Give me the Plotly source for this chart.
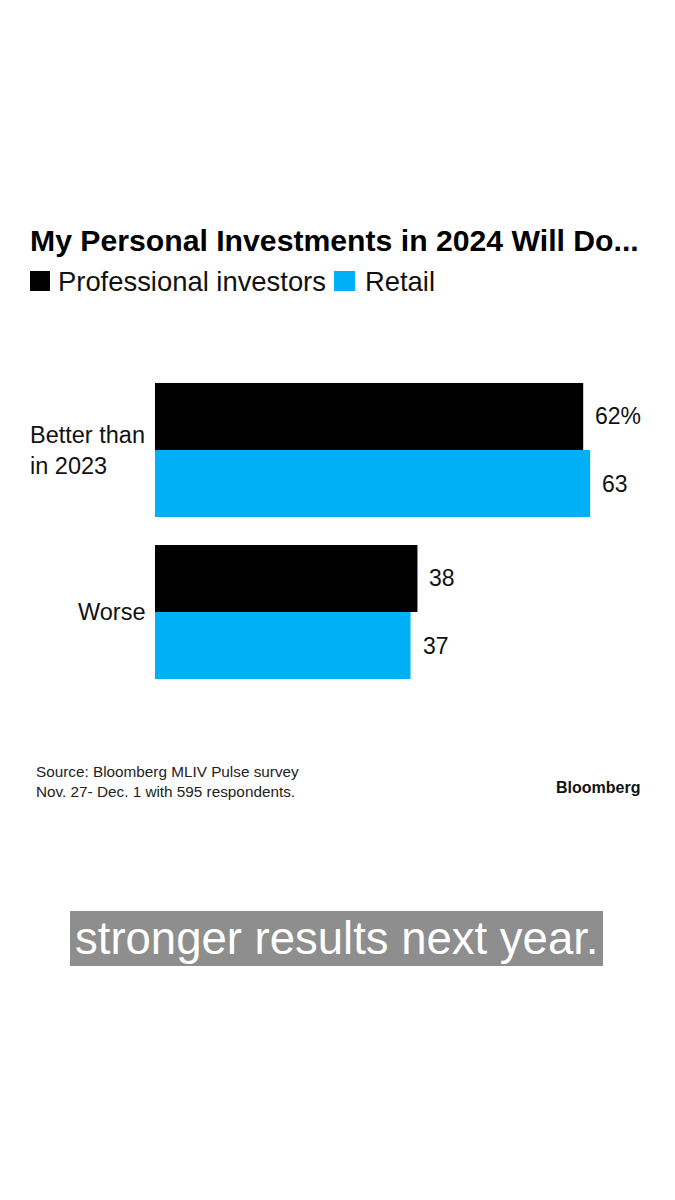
import plotly.graph_objects as go

categories = ["Better than<br>in 2023", "Worse"]
series_names = ["Professional investors", "Retail"]
professional = [62, 38]
retail = [63, 37]
prof_labels = ["62%", "38"]
retail_labels = ["63", "37"]
colors = ["#000000", "#00B0F6"]

W, H = 675, 1200
L, R = 155, 2
T, B = 369, 507
plot_w = W - L - R
plot_h = H - T - B

def px(x):
    return (x - L) / plot_w

def py(y):
    return (H - B - y) / plot_h

FONT = "Liberation Sans, Arial, sans-serif"

fig = go.Figure()
cat_idx = list(range(len(categories)))
for vals, name, col in [(professional, series_names[0], colors[0]), (retail, series_names[1], colors[1])]:
    fig.add_trace(go.Bar(
        y=cat_idx, x=vals, name=name, orientation="h",
        marker=dict(color=col, line=dict(width=0)),
        showlegend=False, hoverinfo="skip",
    ))

annotations = []
# value labels
for i, (v, t) in enumerate(zip(professional, prof_labels)):
    annotations.append(dict(x=v, y=i - 0.207, xref="x", yref="y", text=t, showarrow=False,
                            xanchor="left", xshift=10, font=dict(size=23, color="#111", family=FONT)))
for i, (v, t) in enumerate(zip(retail, retail_labels)):
    annotations.append(dict(x=v, y=i + 0.207, xref="x", yref="y", text=t, showarrow=False,
                            xanchor="left", xshift=10, font=dict(size=23, color="#111", family=FONT)))
# category labels
for i, c in enumerate(categories):
    annotations.append(dict(x=0, y=i, xref="paper", yref="y", text=c, showarrow=False,
                            xanchor="right", xshift=-8, align="left",
                            font=dict(size=23.5, color="#111", family=FONT)))

# title
annotations.append(dict(x=px(28), y=py(240), xref="paper", yref="paper", xanchor="left", yanchor="middle",
                        text="<b>My Personal Investments in 2024 Will Do...</b>", showarrow=False,
                        font=dict(size=30.2, color="#000", family=FONT)))
# legend texts
annotations.append(dict(x=px(56), y=py(281), xref="paper", yref="paper", xanchor="left", yanchor="middle",
                        text=series_names[0], showarrow=False, font=dict(size=27.4, color="#111", family=FONT)))
annotations.append(dict(x=px(363), y=py(281), xref="paper", yref="paper", xanchor="left", yanchor="middle",
                        text=series_names[1], showarrow=False, font=dict(size=27.4, color="#111", family=FONT)))
# source
annotations.append(dict(x=px(34), y=py(781), xref="paper", yref="paper", xanchor="left", yanchor="middle",
                        text="Source: Bloomberg MLIV Pulse survey<br>Nov. 27- Dec. 1 with 595 respondents.",
                        align="left", showarrow=False, font=dict(size=15.3, color="#222", family=FONT)))
annotations.append(dict(x=px(642), y=py(787), xref="paper", yref="paper", xanchor="right", yanchor="middle",
                        text="<b>Bloomberg</b>", showarrow=False, font=dict(size=16, color="#111", family=FONT)))
# caption
annotations.append(dict(x=px(337), y=py(938), xref="paper", yref="paper", xanchor="center", yanchor="middle",
                        text="stronger results next year.", showarrow=False,
                        font=dict(size=45.5, color="#ffffff", family=FONT)))

shapes = [
    dict(type="rect", xref="paper", yref="paper", x0=px(30), x1=px(50), y0=py(291), y1=py(271),
         fillcolor=colors[0], line=dict(width=0)),
    dict(type="rect", xref="paper", yref="paper", x0=px(334), x1=px(355), y0=py(291), y1=py(271),
         fillcolor=colors[1], line=dict(width=0)),
    dict(type="rect", xref="paper", yref="paper", x0=px(70), x1=px(603), y0=py(966), y1=py(911),
         fillcolor="#8e8e8e", line=dict(width=0), layer="below"),
]

fig.update_layout(
    width=W, height=H,
    margin=dict(l=L, r=R, t=T, b=B, pad=0),
    paper_bgcolor="white", plot_bgcolor="white",
    barmode="group", bargap=0.173, bargroupgap=0,
    xaxis=dict(range=[0, 75], visible=False, fixedrange=True),
    yaxis=dict(range=[1.5, -0.5], visible=False, fixedrange=True),
    annotations=annotations, shapes=shapes,
    showlegend=False,
)

fig.write_html("out.html", config={"displayModeBar": False})
